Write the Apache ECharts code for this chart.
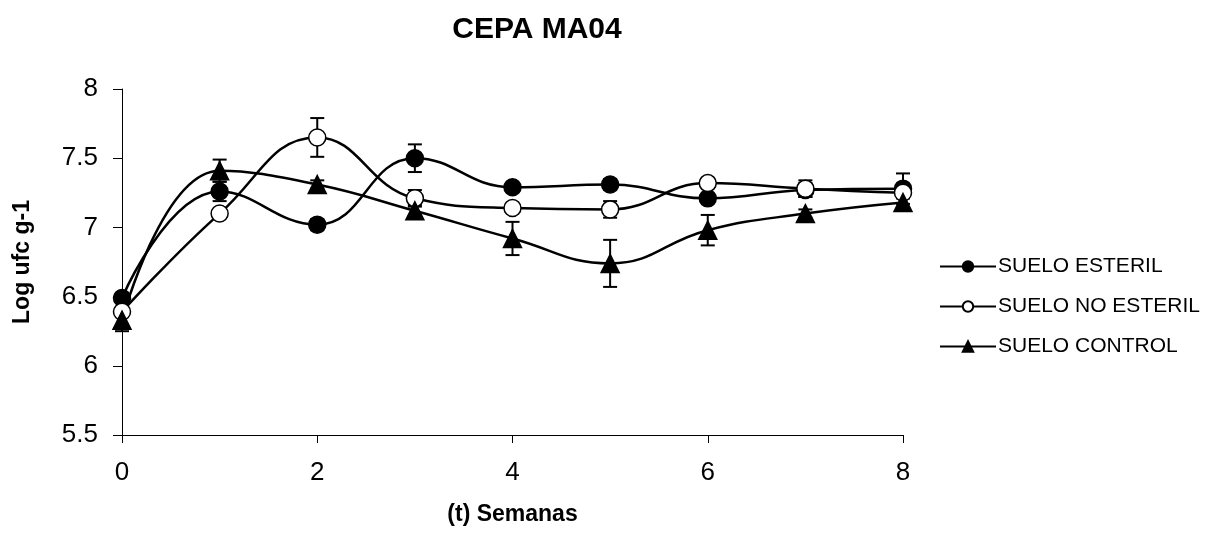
<!DOCTYPE html>
<html>
<head>
<meta charset="utf-8">
<script src="https://cdn.jsdelivr.net/npm/echarts@6/dist/echarts.min.js"></script>
<style>html,body{margin:0;padding:0;background:#fff}#c{width:1218px;height:535px}</style>
</head>
<body>
<div id="c"></div>
<script>
const weeks = [0, 1, 2, 3, 4, 5, 6, 7, 8];
const esteril = [6.49, 7.26, 7.02, 7.50, 7.29, 7.31, 7.21, 7.27, 7.28];
const esterilErr = [0.03, 0.07, 0.04, 0.10, 0.03, 0.04, 0.03, 0.05, 0.11];
const noEsteril = [6.39, 7.10, 7.65, 7.21, 7.14, 7.13, 7.32, 7.28, 7.25];
const noEsterilErr = [0.03, 0.03, 0.14, 0.06, 0.03, 0.06, 0.03, 0.06, 0.04];
const control = [6.33, 7.41, 7.31, 7.12, 6.92, 6.74, 6.98, 7.10, 7.18];
const controlErr = [0.08, 0.08, 0.03, 0.04, 0.12, 0.17, 0.11, 0.03, 0.04];
const names = ['SUELO ESTERIL', 'SUELO NO ESTERIL', 'SUELO CONTROL'];

const chart = echarts.init(document.getElementById('c'));
const font = 'Liberation Sans, Arial, sans-serif';

function errData(vals, errs) {
  return weeks.map((w, i) => [w, vals[i] - errs[i], vals[i] + errs[i]]);
}
function errSeries(vals, errs) {
  return {
    type: 'custom',
    silent: true,
    z: 1,
    data: errData(vals, errs),
    renderItem: function (params, api) {
      const lo = api.coord([api.value(0), api.value(1)]);
      const hi = api.coord([api.value(0), api.value(2)]);
      const hw = 7;
      const st = { stroke: '#000', lineWidth: 2 };
      return {
        type: 'group',
        children: [
          { type: 'line', shape: { x1: lo[0], y1: lo[1], x2: hi[0], y2: hi[1] }, style: st },
          { type: 'line', shape: { x1: lo[0] - hw, y1: lo[1], x2: lo[0] + hw, y2: lo[1] }, style: st },
          { type: 'line', shape: { x1: hi[0] - hw, y1: hi[1], x2: hi[0] + hw, y2: hi[1] }, style: st }
        ]
      };
    }
  };
}
function lineSeries(name, vals, symbol, size, fill) {
  return {
    name: name,
    type: 'line',
    smooth: 0.45,
    z: 3,
    data: weeks.map((w, i) => [w, vals[i]]),
    symbol: symbol,
    symbolSize: size,
    showAllSymbol: true,
    lineStyle: { color: '#000', width: 2.5 },
    itemStyle: { color: fill, borderColor: '#000', borderWidth: 1.5 },
    emphasis: { disabled: true }
  };
}

chart.setOption({
  animation: false,
  backgroundColor: '#fff',
  title: {
    text: 'CEPA MA04',
    left: 532, top: 10, textAlign: 'center',
    textStyle: { fontFamily: font, fontSize: 30, fontWeight: 'bold', color: '#000' }
  },
  legend: {
    orient: 'vertical',
    left: 939, top: 256,
    padding: 0,
    itemWidth: 56, itemHeight: 13,
    itemGap: 19,
    data: names,
    textStyle: { fontFamily: font, fontSize: 21, color: '#000', padding: [0, 0, 0, -3] }
  },
  grid: { left: 122, right: 315, top: 89, bottom: 100 },
  xAxis: {
    type: 'value', min: 0, max: 8, interval: 2,
    name: '(t) Semanas', nameLocation: 'middle', nameGap: 68,
    nameTextStyle: { fontFamily: font, fontSize: 23, fontWeight: 'bold', color: '#000' },
    axisLine: { lineStyle: { color: '#000', width: 1 } },
    axisTick: { show: true, length: 8, lineStyle: { color: '#000' } },
    axisLabel: { fontFamily: font, fontSize: 26, color: '#000', margin: 25 },
    splitLine: { show: false }
  },
  yAxis: {
    type: 'value', min: 5.5, max: 8, interval: 0.5,
    name: 'Log ufc g-1', nameLocation: 'middle', nameGap: 88, nameRotate: 90,
    nameTextStyle: { fontFamily: font, fontSize: 23, fontWeight: 'bold', color: '#000' },
    axisLine: { show: true, lineStyle: { color: '#000', width: 1 } },
    axisTick: { show: true, length: 9, lineStyle: { color: '#000' } },
    axisLabel: { fontFamily: font, fontSize: 26, color: '#000', margin: 24 },
    splitLine: { show: false }
  },
  series: [
    errSeries(esteril, esterilErr),
    errSeries(noEsteril, noEsterilErr),
    errSeries(control, controlErr),
    lineSeries(names[0], esteril, 'circle', 17, '#000'),
    lineSeries(names[1], noEsteril, 'circle', 17, '#fff'),
    lineSeries(names[2], control, 'triangle', 18, '#000')
  ]
});
</script>
</body>
</html>
